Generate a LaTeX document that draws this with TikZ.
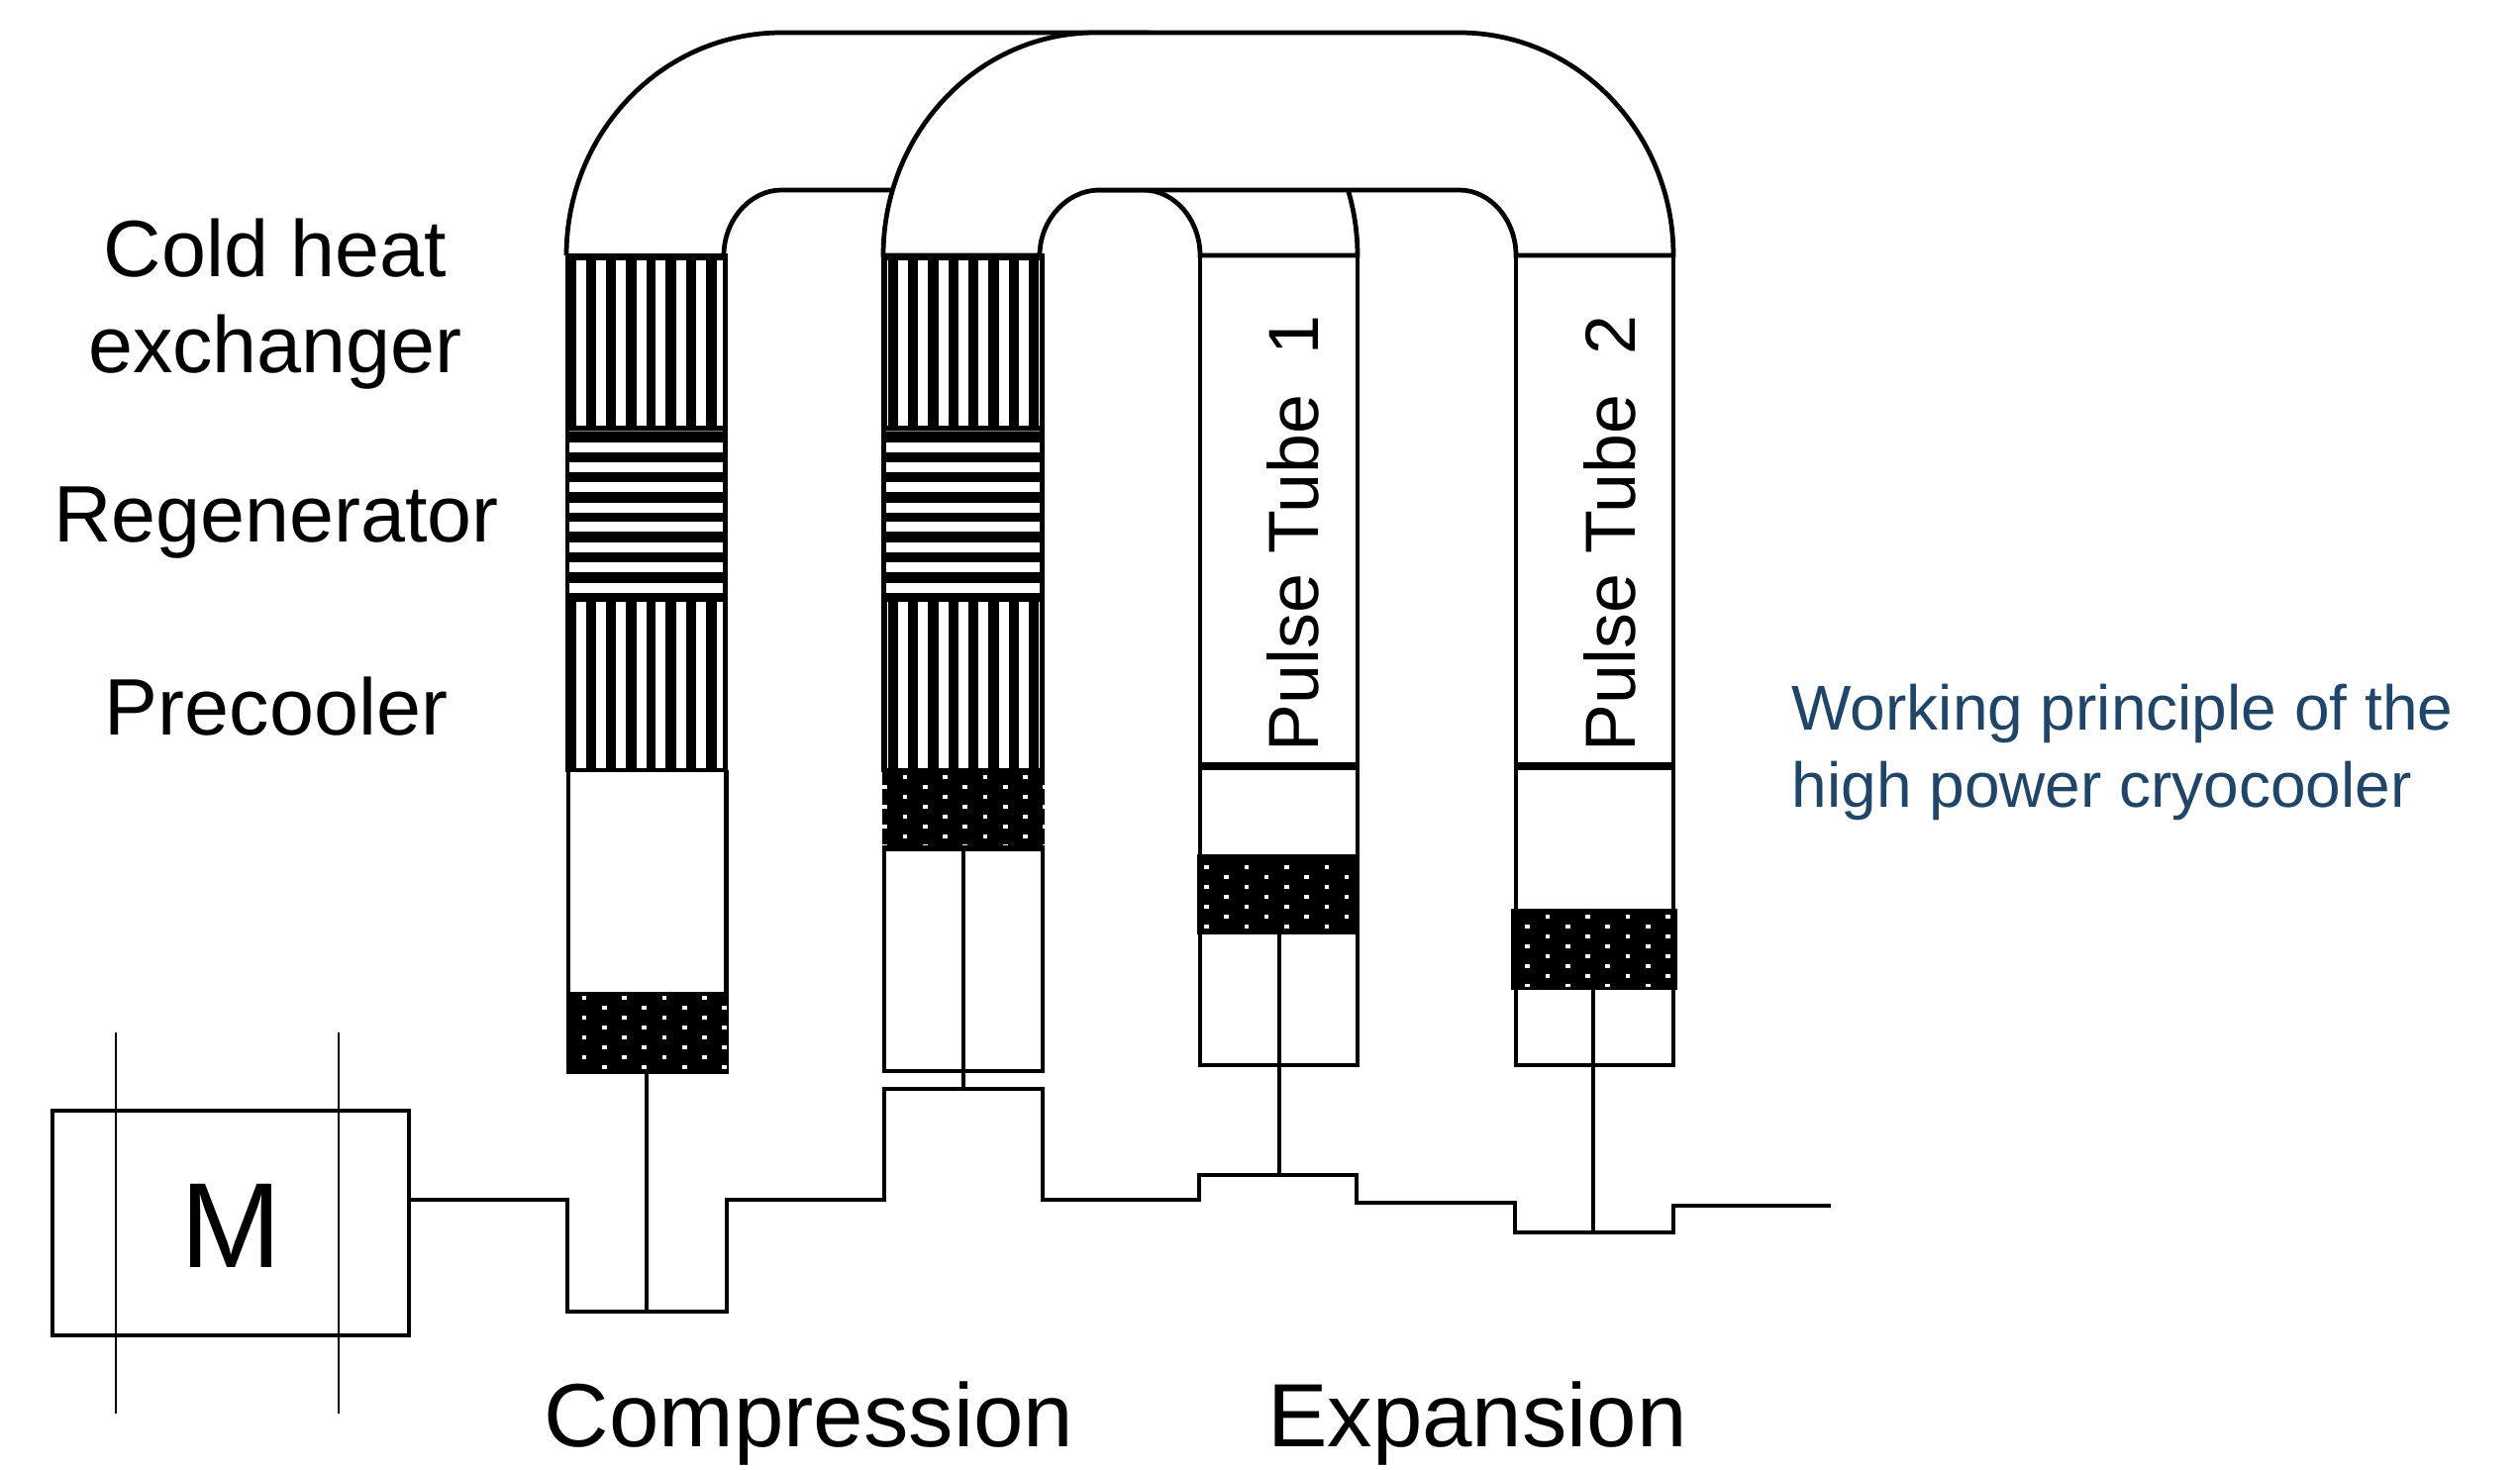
\documentclass[tikz,border=0pt]{standalone}
\usepackage{fontspec}
\setmainfont{Liberation Sans}
\definecolor{notecolor}{HTML}{1F4568}
\tikzset{
  wall/.style={line width=1.35pt},
  crank/.style={line width=1.35pt},
  rod/.style={line width=1.25pt},
  axle/.style={line width=0.7pt},
  label/.style={inner sep=0pt, align=center}
}
% #1 left, #2 right, #3 top, #4 bottom, #5 dot offset in x, #6 dot offset in y
\newcommand{\dotpiston}[6]{
  \fill[black] (#1,#3) rectangle (#2,#4);
  \begin{scope}
    \clip (#1,#3) rectangle (#2,#4);
    \foreach \row in {0,...,8} {
      \foreach \col in {-1,...,4} {
        \pgfmathsetmacro{\dotx}{#1+#5+40.5*\col+20.2*mod(\row,2)}
        \pgfmathsetmacro{\doty}{#3+#6+10*\row}
        \fill[white] (\dotx-2.3,\doty-2) rectangle (\dotx+2.3,\doty+2);
      }
    }
  \end{scope}
}
\begin{document}
\begin{tikzpicture}[x=0.01cm, y=-0.01cm]
  \useasboundingbox (0,0) rectangle (2545,1485);

  % first bend
  \draw[wall, fill=white] (572,258) .. controls (572,134) and (669,33) .. (789,33) -- (1153,33)
    .. controls (1273,33) and (1371,134) .. (1371,258) -- (1212,258)
    .. controls (1212,222) and (1186,192) .. (1155,192) -- (789,192)
    .. controls (758,192) and (731,222) .. (731,258);

  % second bend
  \draw[wall, fill=white] (892,258) .. controls (892,134) and (988,33) .. (1106,33) -- (1474,33)
    .. controls (1593,33) and (1690,134) .. (1690,258) -- (1531,258)
    .. controls (1531,222) and (1505,192) .. (1474,192) -- (1110,192)
    .. controls (1078,192) and (1050,222) .. (1050,258) -- cycle;

  % first regenerator
  \fill[black] (571,256) rectangle (735,780);
  \foreach \x in {582,602,622,643,662,683,703} {
    \fill[white] (\x,263) rectangle +(10.4,167);
    \fill[white] (\x,608) rectangle +(10.4,168);
  }
  \fill[white] (724,263) rectangle (730,430);
  \fill[white] (724,608) rectangle (730,776);
  \fill[gray] (575,435.2) rectangle (730,436);
  \foreach \y in {447,467,487,508,527,548,568,589} {
    \fill[white] (575,\y) rectangle (730,\y+10.4);
  }

  % second regenerator
  \fill[black] (890,256) rectangle (1055,780);
  \foreach \x in {907,927,948,968,988,1009,1029} {
    \fill[white] (\x,263) rectangle +(10.4,167);
    \fill[white] (\x,608) rectangle +(10.4,168);
  }
  \foreach \x in {895.5,1049} {
    \fill[white] (\x,263) rectangle +(1,167);
    \fill[white] (\x,608) rectangle +(1,168);
  }
  \fill[gray] (895,435.2) rectangle (1050,436);
  \foreach \y in {447,467,487,508,527,548,568,589} {
    \fill[white] (895,\y) rectangle (1050,\y+10.4);
  }

  % cylinders
  \draw[wall] (574,778) -- (574,1002);
  \draw[wall] (733.5,778) -- (733.5,1002);
  \draw[wall] (893,858) rectangle (1053,1082);
  \draw[wall] (1212,258) rectangle (1371,1076);
  \draw[wall] (1531,258) rectangle (1690,1076);
  \draw[line width=2pt] (1212,774) -- (1371,774);
  \draw[line width=2pt] (1531,774) -- (1690,774);

  % pistons
  \dotpiston{572}{736}{1002}{1085}{18}{6}
  \dotpiston{891}{1055}{777}{858}{23}{8}
  \fill[black] (891,853.5) rectangle (1055,858);
  \dotpiston{1209}{1373}{863}{944}{9.4}{13}
  \dotpiston{1526}{1694}{918}{1000}{37}{8}
  \fill[black] (1526,996.5) rectangle (1694,1000);

  % motor
  \draw[wall] (53,1122) rectangle (413,1349);
  \draw[axle] (117,1043) -- (117,1428);
  \draw[axle] (342,1043) -- (342,1428);

  % crank line
  \draw[crank] (413,1212) -- (573,1212) -- (573,1325) -- (734,1325) -- (734,1212)
    -- (893,1212) -- (893,1100) -- (1053,1100) -- (1053,1212) -- (1211,1212)
    -- (1211,1187) -- (1370,1187) -- (1370,1215) -- (1530,1215) -- (1530,1245)
    -- (1690,1245) -- (1690,1218) -- (1849,1218);

  % rods
  \draw[rod] (653,1085) -- (653,1325);
  \draw[rod] (973,858) -- (973,1100);
  \draw[rod] (1292,944) -- (1292,1187);
  \draw[rod] (1609,1000) -- (1609,1243);

  % labels
  \node[label, font=\fontsize{23}{27.6}\selectfont] (cold) at (278,307) {Cold heat\\exchanger};
  \node[label, font=\fontsize{23}{27.6}\selectfont] (regen) at (279,528) {Regenerator};
  \node[label, font=\fontsize{23}{27.6}\selectfont] (pre) at (279,714) {Precooler};
  \node[label, font=\fontsize{20.4}{24}\selectfont, rotate=90] (tube1) at (1306,539) {Pulse Tube\ \ 1};
  \node[label, font=\fontsize{20.4}{24}\selectfont, rotate=90] (tube2) at (1626,539) {Pulse Tube\ \ 2};
  \node[label, font=\fontsize{34.8}{40}\selectfont] (motor) at (233,1238) {M};
  \node[label, font=\fontsize{25.8}{30}\selectfont] (comp) at (817,1438) {Compression};
  \node[label, font=\fontsize{25.8}{30}\selectfont] (exp) at (1492,1438) {Expansion};
  \node[label, align=left, anchor=west, text=notecolor, font=\fontsize{18.2}{22}\selectfont] (note) at (1809,760)
    {Working principle of the\\high power cryocooler};
\end{tikzpicture}
\end{document}
